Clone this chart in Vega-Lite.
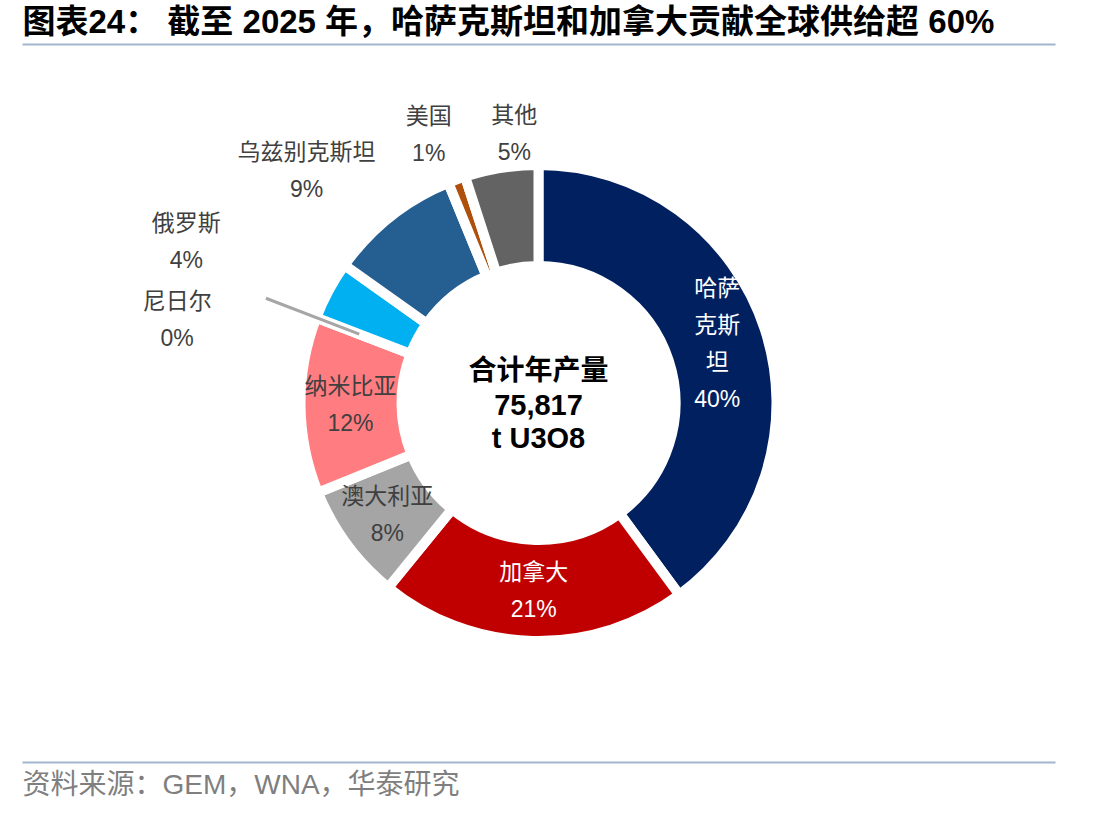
{
  "$schema": "https://vega.github.io/schema/vega-lite/v6.json",
  "width": 1033,
  "height": 718,
  "autosize": {"type": "none"},
  "padding": {"left": 22, "top": 44, "right": 57, "bottom": 55},
  "background": "white",
  "config": {"view": {"stroke": null}},
  "data": {
    "values": [
      {"country": "哈萨克斯坦", "share": 40, "order": 1, "label": "哈萨\n克斯\n坦\n40%"},
      {"country": "加拿大", "share": 21, "order": 2, "label": "加拿大\n21%"},
      {"country": "澳大利亚", "share": 8, "order": 3, "label": "澳大利亚\n8%"},
      {"country": "纳米比亚", "share": 12, "order": 4, "label": "纳米比亚\n12%"},
      {"country": "尼日尔", "share": 0, "order": 5, "label": "尼日尔\n0%"},
      {"country": "俄罗斯", "share": 4, "order": 6, "label": "俄罗斯\n4%"},
      {"country": "乌兹别克斯坦", "share": 9, "order": 7, "label": "乌兹别克斯坦\n9%"},
      {"country": "美国", "share": 1.2, "order": 8, "label": "美国\n1%"},
      {"country": "其他", "share": 5, "order": 9, "label": "其他\n5%"}
    ]
  },
  "resolve": {"axis": {"x": "independent"}, "scale": {"x": "independent"}},
  "layer": [
    {
      "mark": {"type": "arc", "radius": 238, "radius2": 137, "stroke": "white", "strokeWidth": 10},
      "encoding": {
        "theta": {"field": "share", "type": "quantitative", "stack": true},
        "order": {"field": "order", "type": "quantitative"},
        "color": {
          "field": "country",
          "type": "nominal",
          "legend": null,
          "scale": {
            "domain": ["哈萨克斯坦", "加拿大", "澳大利亚", "纳米比亚", "尼日尔", "俄罗斯", "乌兹别克斯坦", "美国", "其他"],
            "range": ["#002060", "#C00000", "#A5A5A5", "#FF7C80", "#7F7F7F", "#00B0F0", "#255E91", "#AE4F0C", "#636363"]
          }
        }
      }
    },
    {
      "mark": {"type": "arc", "radius": 292, "radius2": 192, "fillOpacity": 0, "strokeWidth": 3},
      "encoding": {
        "theta": {"field": "share", "type": "quantitative", "stack": true},
        "order": {"field": "order", "type": "quantitative"},
        "stroke": {"condition": {"test": "datum.country === '尼日尔'", "value": "#A6A6A6"}, "value": "transparent"}
      }
    },
    {
      "mark": {"type": "text", "radius": 188, "dy": -55, "baseline": "middle", "align": "center", "lineBreak": "\n", "lineHeight": 37, "font": "Liberation Sans, Noto Sans CJK SC", "fontSize": 23, "color": "#FFFFFF"},
      "encoding": {
        "theta": {"field": "share", "type": "quantitative", "stack": true},
        "order": {"field": "order", "type": "quantitative"},
        "text": {"condition": {"test": "datum.country === '哈萨克斯坦'", "field": "label"}, "value": ""}
      }
    },
    {
      "mark": {"type": "text", "radius": 188, "dy": -18, "baseline": "middle", "align": "center", "lineBreak": "\n", "lineHeight": 37, "font": "Liberation Sans, Noto Sans CJK SC", "fontSize": 23},
      "encoding": {
        "theta": {"field": "share", "type": "quantitative", "stack": true},
        "order": {"field": "order", "type": "quantitative"},
        "text": {"condition": {"test": "indexof(['加拿大','澳大利亚','纳米比亚'], datum.country) >= 0", "field": "label"}, "value": ""},
        "color": {"condition": {"test": "datum.country === '加拿大'", "value": "#FFFFFF"}, "value": "#404040"}
      }
    },
    {
      "mark": {"type": "text", "radius": 270, "dx": 18, "dy": -20, "baseline": "middle", "align": "center", "lineBreak": "\n", "lineHeight": 37, "font": "Liberation Sans, Noto Sans CJK SC", "fontSize": 23, "color": "#404040"},
      "encoding": {
        "theta": {"field": "share", "type": "quantitative", "stack": true},
        "order": {"field": "order", "type": "quantitative"},
        "text": {"condition": {"test": "datum.country === '其他'", "field": "label"}, "value": ""}
      }
    },
    {
      "mark": {"type": "text", "radius": 290, "dx": -10, "dy": -14, "baseline": "middle", "align": "center", "lineBreak": "\n", "lineHeight": 37, "font": "Liberation Sans, Noto Sans CJK SC", "fontSize": 23, "color": "#404040"},
      "encoding": {
        "theta": {"field": "share", "type": "quantitative", "stack": true},
        "order": {"field": "order", "type": "quantitative"},
        "text": {"condition": {"test": "datum.country === '美国'", "field": "label"}, "value": ""}
      }
    },
    {
      "mark": {"type": "text", "radius": 328, "dx": -28, "dy": 7, "baseline": "middle", "align": "center", "lineBreak": "\n", "lineHeight": 37, "font": "Liberation Sans, Noto Sans CJK SC", "fontSize": 23, "color": "#404040"},
      "encoding": {
        "theta": {"field": "share", "type": "quantitative", "stack": true},
        "order": {"field": "order", "type": "quantitative"},
        "text": {"condition": {"test": "datum.country === '乌兹别克斯坦'", "field": "label"}, "value": ""}
      }
    },
    {
      "mark": {"type": "text", "radius": 386, "dx": -12, "dy": 3, "baseline": "middle", "align": "center", "lineBreak": "\n", "lineHeight": 37, "font": "Liberation Sans, Noto Sans CJK SC", "fontSize": 23, "color": "#404040"},
      "encoding": {
        "theta": {"field": "share", "type": "quantitative", "stack": true},
        "order": {"field": "order", "type": "quantitative"},
        "text": {"condition": {"test": "datum.country === '俄罗斯'", "field": "label"}, "value": ""}
      }
    },
    {
      "mark": {"type": "text", "radius": 371, "dx": -15, "dy": 32, "baseline": "middle", "align": "center", "lineBreak": "\n", "lineHeight": 37, "font": "Liberation Sans, Noto Sans CJK SC", "fontSize": 23, "color": "#404040"},
      "encoding": {
        "theta": {"field": "share", "type": "quantitative", "stack": true},
        "order": {"field": "order", "type": "quantitative"},
        "text": {"condition": {"test": "datum.country === '尼日尔'", "field": "label"}, "value": ""}
      }
    },
    {
      "data": {"values": [{"line": "合计年产量"}]},
      "mark": {"type": "text", "baseline": "middle", "align": "center", "dy": -31, "font": "Liberation Sans, Noto Sans CJK SC", "fontSize": 28, "fontWeight": "bold", "color": "#000000"},
      "encoding": {
        "x": {"datum": 0.5, "type": "quantitative", "scale": {"domain": [0, 1]},
          "axis": {"orient": "top", "domain": true, "domainColor": "#A2B6D0", "domainWidth": 2, "ticks": false, "labels": false, "grid": false,
            "title": "图表24： 截至 2025 年，哈萨克斯坦和加拿大贡献全球供给超 60%", "titleAnchor": "start", "titleAlign": "left", "titleBaseline": "bottom", "titlePadding": 5,
            "titleFont": "Liberation Sans, Noto Sans CJK SC", "titleFontSize": 33, "titleFontWeight": "bold", "titleColor": "#000000"}},
        "text": {"field": "line", "type": "nominal"}
      }
    },
    {
      "data": {"values": [{"line": "75,817\nt U3O8"}]},
      "mark": {"type": "text", "baseline": "middle", "align": "center", "dy": 3, "lineBreak": "\n", "lineHeight": 33, "font": "Liberation Sans, Noto Sans CJK SC", "fontSize": 29, "fontWeight": "bold", "color": "#000000"},
      "encoding": {
        "x": {"datum": 0.5, "type": "quantitative", "scale": {"domain": [0, 1]},
          "axis": {"orient": "bottom", "domain": true, "domainColor": "#A2B6D0", "domainWidth": 2, "ticks": false, "labels": false, "grid": false,
            "title": "资料来源：GEM，WNA，华泰研究", "titleAnchor": "start", "titleAlign": "left", "titleBaseline": "top", "titlePadding": 9,
            "titleFont": "Liberation Sans, Noto Sans CJK SC", "titleFontSize": 28, "titleFontWeight": "normal", "titleColor": "#7F7F7F"}},
        "text": {"field": "line", "type": "nominal"}
      }
    }
  ]
}
